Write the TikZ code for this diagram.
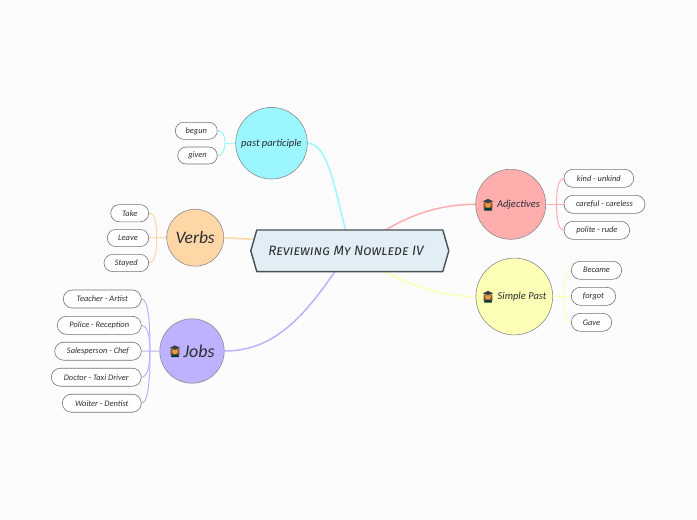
\documentclass[tikz,border=0pt]{standalone}
\usepackage{fontspec}
\setmainfont{Carlito}
\newfontfamily\titlefont{Fira Sans}[Letters=SmallCaps]
\usetikzlibrary{shapes.misc,backgrounds}
\definecolor{bgc}{HTML}{FCFCFC}
\definecolor{cyanc}{HTML}{9BF6FF}
\definecolor{orangec}{HTML}{FFD6A5}
\definecolor{purplec}{HTML}{BDB2FF}
\definecolor{redc}{HTML}{FFADAD}
\definecolor{yellowc}{HTML}{FDFFB6}
\definecolor{hexfill}{HTML}{E2EEF5}
\definecolor{hexline}{HTML}{4A4F52}
\definecolor{inkc}{HTML}{2B2F33}
\tikzset{
  topic/.style={circle,draw=black!45,line width=0.6pt,inner sep=0pt,text=inkc,font=\itshape},
  pill/.style={rounded rectangle,draw=black!55,line width=0.6pt,fill=white,inner sep=0pt,text=inkc,font=\itshape\fontsize{8.4}{9}\selectfont},
  main/.style={line width=1.5pt},
  twig/.style={line width=1pt},
  gradicon/.pic={
    \fill[brown!70!black] (-4.2,-2) -- (4.2,-2) -- (4.6,4) -- (-4.6,4) -- cycle;
    \fill[orange!55!brown!80!white] (0,0.3) circle (2.9);
    \fill[teal!45!black] (-4,6) -- (-3.4,3.6) -- (3.4,3.6) -- (4,6) -- cycle;
    \fill[black!75] (-5.3,-3.2) -- (0,-5.6) -- (5.3,-3.2) -- (0,-1.2) -- cycle;
  }
}
\begin{document}
\begin{tikzpicture}[x=1pt,y=-1pt]
\useasboundingbox (0,0) rectangle (697,520);
\begin{scope}[on background layer]
\fill[bgc] (0,0) rectangle (697,520);
\end{scope}
% centre
\coordinate (hexW) at (250.8,250.8);
\coordinate (hexE) at (448.8,250.8);
\draw[hexline,fill=hexfill,line width=1.4pt,line join=round]
  (hexW) -- (256.8,230) -- (442.8,230) -- (hexE) -- (442.8,271.6) -- (256.8,271.6) -- cycle;
\node[inner sep=0pt,font=\titlefont\itshape\fontsize{13.6}{18}\selectfont,text=inkc] (centre) at (346,250.5) {Reviewing My Nowlede IV};
% topics
\node[topic,fill=cyanc,minimum size=71.6pt,font=\itshape\fontsize{10.5}{12}\selectfont] (past) at (271.5,143.2) {past participle};
\node[topic,fill=orangec,minimum size=57pt,font=\itshape\fontsize{17.5}{22}\selectfont] (verbs) at (195.2,237.7) {Verbs};
\node[topic,fill=purplec,minimum size=64.4pt,font=\itshape\fontsize{18}{22}\selectfont] (jobs) at (192,351) {\hspace*{14pt}Jobs};
\node[topic,fill=redc,minimum size=70pt,font=\itshape\fontsize{10.5}{12}\selectfont] (adj) at (510.7,204.3) {\hspace*{15.6pt}Adjectives};
\node[topic,fill=yellowc,minimum size=76.8pt,font=\itshape\fontsize{10.5}{12}\selectfont] (simple) at (514.3,296.5) {\hspace*{15.4pt}Simple Past};
\pic at (488,204.5) {gradicon};
\pic at (488,296.5) {gradicon};
\pic at (175,351) {gradicon};
% leaves
\node[pill,minimum width=69.7pt,minimum height=18pt] (kind) at (598.85,178.3) {kind - unkind};
\node[pill,minimum width=81pt,minimum height=18pt] (careful) at (604.5,204.3) {careful - careless};
\node[pill,minimum width=65.7pt,minimum height=18pt] (polite) at (596.85,230.3) {polite - rude};
\node[pill,minimum width=50.4pt,minimum height=18pt] (became) at (596.5,270.3) {Became};
\node[pill,minimum width=44.4pt,minimum height=18pt] (forgot) at (593.5,296.3) {forgot};
\node[pill,minimum width=40.4pt,minimum height=18pt] (gave) at (591.5,322.3) {Gave};
\node[pill,minimum width=78pt,minimum height=18pt] (teacher) at (102.3,299) {Teacher - Artist};
\node[pill,minimum width=84pt,minimum height=18pt] (police) at (99.3,325.3) {Police - Reception};
\node[pill,minimum width=86.6pt,minimum height=18pt] (sales) at (98,351.2) {Salesperson - Chef};
\node[pill,minimum width=90pt,minimum height=18pt] (doctor) at (96.3,377.2) {Doctor - Taxi Driver};
\node[pill,minimum width=79pt,minimum height=18pt] (waiter) at (101.8,403.2) {Waiter - Dentist};
\node[pill,minimum width=38pt,minimum height=17.2pt] (take) at (129.7,213.2) {Take};
\node[pill,minimum width=41.4pt,minimum height=17.2pt] (leave) at (128,238) {Leave};
\node[pill,minimum width=44.7pt,minimum height=17.2pt] (stayed) at (126.35,263) {Stayed};
\node[pill,minimum width=42pt,minimum height=17pt] (begun) at (196.3,130.8) {begun};
\node[pill,minimum width=39.6pt,minimum height=17pt] (given) at (197.5,155.5) {given};
% junction and centre-side coordinates
\coordinate (tPast) at (225,143.2);
\coordinate (tVerbs) at (156.7,237.7);
\coordinate (tJobs) at (150,351);
\coordinate (tAdj) at (556.5,204.3);
\coordinate (tSimple) at (564,296.3);
\coordinate (cPast) at (346,232);
\coordinate (cVerbs) at (253,239);
\coordinate (cJobs) at (336,270);
\coordinate (cAdj) at (384,231);
\coordinate (cSimple) at (384,271);
\begin{scope}[on background layer]
\draw[main,cyanc] (past.east) .. controls (328,143) and (335,190) .. (cPast);
\draw[main,orangec] (verbs.east) .. controls (232,238) and (242,239) .. (cVerbs);
\draw[main,purplec] (jobs.east) .. controls (275,351) and (305,315) .. (cJobs);
\draw[main,redc] (adj.west) .. controls (445,204.3) and (415,212) .. (cAdj);
\draw[main,yellowc] (simple.west) .. controls (445,296.5) and (415,288) .. (cSimple);
\draw[twig,cyanc] (past.west) -- (tPast);
\draw[twig,cyanc] (tPast) .. controls (225,134) and (222,131) .. (begun.east);
\draw[twig,cyanc] (tPast) .. controls (225,150) and (222,155.5) .. (given.east);
\draw[twig,orangec] (verbs.west) -- (tVerbs) -- (leave.east);
\draw[twig,orangec] (tVerbs) .. controls (156.7,220) and (154,213) .. (take.east);
\draw[twig,orangec] (tVerbs) .. controls (156.7,255) and (154,263) .. (stayed.east);
\draw[twig,purplec] (jobs.west) -- (sales.east);
\draw[twig,purplec] (tJobs) .. controls (150,320) and (148,299) .. (teacher.east);
\draw[twig,purplec] (tJobs) .. controls (150,335) and (147,325) .. (police.east);
\draw[twig,purplec] (tJobs) .. controls (150,367) and (147,377) .. (doctor.east);
\draw[twig,purplec] (tJobs) .. controls (150,382) and (148,403) .. (waiter.east);
\draw[twig,redc] (adj.east) -- (careful.west);
\draw[twig,redc] (tAdj) .. controls (556.5,188) and (559,178.3) .. (kind.west);
\draw[twig,redc] (tAdj) .. controls (556.5,221) and (559,230.3) .. (polite.west);
\draw[twig,yellowc] (simple.east) -- (forgot.west);
\draw[twig,yellowc] (tSimple) .. controls (564,280) and (566,270.3) .. (became.west);
\draw[twig,yellowc] (tSimple) .. controls (564,313) and (566,322.3) .. (gave.west);
\end{scope}
\end{tikzpicture}
\end{document}
